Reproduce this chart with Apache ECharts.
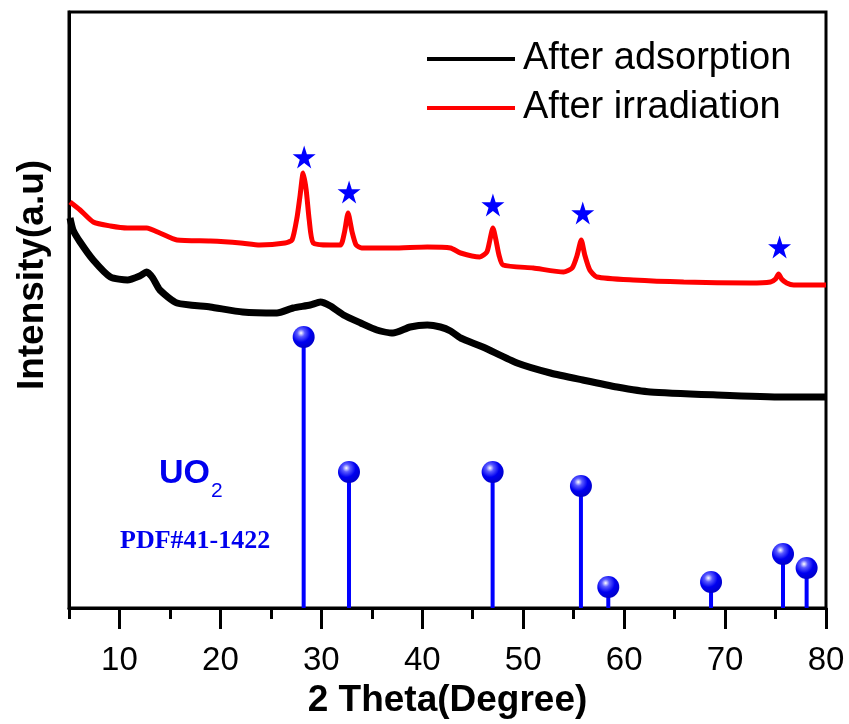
<!DOCTYPE html>
<html>
<head>
<meta charset="utf-8">
<script src="https://cdn.jsdelivr.net/npm/echarts@6/dist/echarts.min.js"></script>
<style>
  html, body { margin: 0; padding: 0; background: #fff; }
  #chart { width: 849px; height: 724px; }
</style>
</head>
<body>
<div id="chart"></div>
<script>
// XRD patterns, [2theta, intensity (a.u.)]
const adsorption = [
  [5.1, 390], [5.4, 378], [6.1, 366], [7.4, 348], [9.1, 331], [10.8, 328],
  [12.0, 332], [12.7, 336], [13.3, 330], [14.0, 318], [15.7, 305], [19.0, 301],
  [22.2, 296], [25.6, 295], [27.2, 300], [28.9, 303], [29.9, 306], [30.9, 302],
  [32.2, 293], [33.9, 285], [35.5, 278], [37.1, 275], [38.8, 281], [40.5, 283],
  [41.8, 281], [42.8, 277], [43.8, 270], [46.0, 261], [49.4, 245], [52.7, 235],
  [55.9, 228], [59.3, 221], [62.6, 216], [69.2, 213], [75.8, 211], [80.0, 211]
];
const irradiation = [
  [5.1, 406], [6.1, 398], [7.4, 386], [9.1, 382], [10.8, 380], [12.7, 380],
  [14.0, 375], [15.7, 368], [19.0, 367], [22.0, 365], [23.9, 363], [26.4, 365],
  [27.1, 368], [27.6, 391], [27.9, 413], [28.2, 435], [28.5, 418], [28.8, 388],
  [29.2, 365], [30.9, 363], [31.9, 363], [32.3, 376], [32.65, 395], [33.05, 376],
  [33.45, 363], [34.0, 360], [37.1, 360], [40.5, 361], [42.8, 360], [43.8, 355],
  [45.7, 351], [46.4, 356], [46.7, 368], [47.0, 380], [47.3, 368], [47.6, 353],
  [48.0, 343], [51.0, 340], [54.0, 336], [54.85, 340], [55.35, 353], [55.75, 368],
  [56.1, 353], [56.6, 338], [57.3, 331], [60.9, 328], [65.9, 326], [72.5, 325],
  [74.5, 326], [75.0, 329], [75.3, 334], [75.6, 329], [76.1, 325], [76.8, 323],
  [80.0, 323]
];
// UO2 reference lines (PDF#41-1422)
const refPeaks = [28.25, 32.74, 46.97, 55.72, 58.43, 68.61, 75.74, 78.08];
const refHeights = [271, 136, 136, 122, 21, 26, 54, 40];
// star markers above the UO2 peaks
const starX = [28.3, 32.75, 47.0, 55.9, 75.4];
const starY = [451, 416, 403, 395, 361];

const xMajorTicks = [10, 20, 30, 40, 50, 60, 70, 80];
const xMinorTicks = [5, 15, 25, 35, 45, 55, 65, 75];

const refData = refPeaks.map((x, i) => [x, refHeights[i]]);
const starData = starX.map((x, i) => [x, starY[i]]);

const chart = echarts.init(document.getElementById("chart"));

const ball = {
  type: "radial",
  x: 0.38,
  y: 0.32,
  r: 0.7,
  colorStops: [
    { offset: 0, color: "#ffffff" },
    { offset: 0.25, color: "#5a5aff" },
    { offset: 0.6, color: "#0000f0" },
    { offset: 1, color: "#0000c8" },
  ],
};

chart.setOption({
  animation: false,
  grid: {
    left: 69,
    right: 23,
    top: 12,
    bottom: 116,
    show: true,
    borderColor: "#000",
    borderWidth: 3,
  },
  legend: {
    data: ["After adsorption", "After irradiation"],
    orient: "vertical",
    left: 427,
    top: 40,
    padding: 0,
    icon: "rect",
    itemWidth: 88,
    itemHeight: 4,
    itemGap: 11,
    textStyle: {
      fontFamily: "Liberation Sans",
      fontSize: 38,
      lineHeight: 38,
      color: "#000",
      padding: [0, 0, 0, 3],
    },
  },
  xAxis: [
    {
      type: "value",
      min: 5,
      max: 80,
      position: "bottom",
      name: "2 Theta(Degree)",
      nameLocation: "middle",
      nameGap: 68,
      nameTextStyle: {
        fontFamily: "Liberation Sans",
        fontWeight: "bold",
        fontSize: 37,
        color: "#000",
      },
      splitLine: { show: false },
      axisLine: { lineStyle: { color: "#000", width: 3 } },
      axisTick: {
        length: 21,
        lineStyle: { color: "#000", width: 3 },
        customValues: xMajorTicks,
      },
      axisLabel: {
        customValues: xMajorTicks,
        margin: 36,
        fontFamily: "Liberation Sans",
        fontSize: 33,
        color: "#000",
      },
    },
    {
      type: "value",
      min: 5,
      max: 80,
      position: "bottom",
      splitLine: { show: false },
      axisLine: { show: false },
      axisLabel: { show: false },
      axisTick: {
        length: 11,
        lineStyle: { color: "#000", width: 3 },
        customValues: xMinorTicks,
      },
    },
  ],
  yAxis: {
    type: "value",
    min: 0,
    max: 596,
    name: "Intensity(a.u)",
    nameLocation: "middle",
    nameGap: 18,
    nameTextStyle: {
      fontFamily: "Liberation Sans",
      fontWeight: "bold",
      fontSize: 37,
      color: "#000",
      padding: [0, 0, 0, 70],
    },
    splitLine: { show: false },
    axisLine: { show: true, lineStyle: { color: "#000", width: 3 } },
    axisTick: { show: false },
    axisLabel: { show: false },
  },
  graphic: [
    {
      type: "text",
      left: 159,
      top: 457,
      style: {
        text: "UO",
        fontFamily: "Liberation Sans",
        fontWeight: "bold",
        fontSize: 34,
        fill: "#0000ee",
      },
    },
    {
      type: "text",
      left: 211,
      top: 481,
      style: {
        text: "2",
        fontFamily: "Liberation Sans",
        fontSize: 21,
        fill: "#0000ee",
      },
    },
    {
      type: "text",
      left: 120,
      top: 528,
      style: {
        text: "PDF#41-1422",
        fontFamily: "Liberation Serif",
        fontWeight: "bold",
        fontSize: 26,
        fill: "#0000ee",
      },
    },
  ],
  series: [
    {
      name: "After adsorption",
      type: "line",
      data: adsorption,
      showSymbol: false,
      smooth: 0.2,
      color: "#000",
      lineStyle: { color: "#000", width: 7 },
      z: 3,
    },
    {
      name: "After irradiation",
      type: "line",
      data: irradiation,
      showSymbol: false,
      smooth: 0.2,
      color: "#ff0000",
      lineStyle: { color: "#ff0000", width: 5 },
      z: 3,
    },
    {
      name: "UO2",
      type: "bar",
      data: refData,
      barWidth: 4,
      itemStyle: { color: "#0000ff" },
      z: 4,
    },
    {
      name: "UO2 top",
      type: "scatter",
      data: refData,
      symbolSize: 22,
      itemStyle: { color: ball, opacity: 1 },
      z: 5,
    },
    {
      name: "stars",
      type: "scatter",
      data: starData,
      symbol: "path://M50,0 L61.8,36.2 L100,36.2 L69.1,58.8 L80.9,95.1 L50,72.7 L19.1,95.1 L30.9,58.8 L0,36.2 L38.2,36.2 Z",
      symbolSize: 23,
      itemStyle: { color: "#0000ff", opacity: 1 },
      z: 5,
    },
  ],
});
</script>
</body>
</html>
